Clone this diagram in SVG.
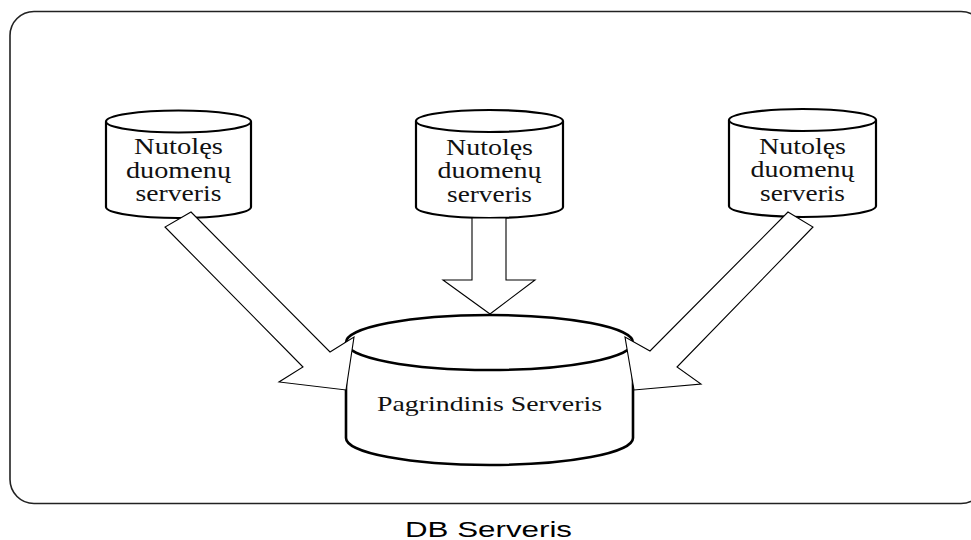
<svg xmlns="http://www.w3.org/2000/svg" width="971" height="540" viewBox="0 0 971 540">
  <style>
    .frame { fill: #ffffff; stroke: #222222; stroke-width: 1.6; }
    .cyl { fill: #ffffff; stroke: #000000; stroke-width: 2.2; stroke-linejoin: round; }
    .cyl-big { fill: #ffffff; stroke: #000000; stroke-width: 2.6; stroke-linejoin: round; }
    .arrow { fill: #ffffff; stroke: #000000; stroke-width: 1.1; stroke-linejoin: miter; }
    .lbl { font-family: "Liberation Serif", "Times New Roman", serif; font-size: 22.5px; fill: #111111; text-anchor: middle; }
    .lbl-main { font-family: "Liberation Serif", "Times New Roman", serif; font-size: 21.5px; fill: #111111; text-anchor: middle; }
    .cap { font-family: "Liberation Sans", Arial, sans-serif; font-size: 22px; fill: #000000; text-anchor: middle; }
  </style>

  <rect width="971" height="540" fill="#ffffff"/>

  <!-- outer panel -->
  <rect class="frame" x="10" y="11.5" width="975" height="492" rx="24" ry="24"/>

  <!-- remote data servers -->
  <g id="remote-left">
    <path class="cyl" d="M106,121.5 V207 A72.5,11 0 0 0 251,207 V121.5"/>
    <ellipse class="cyl" cx="178.5" cy="121.5" rx="72.5" ry="11"/>
    <text class="lbl" x="178.5" y="154" textLength="89" lengthAdjust="spacingAndGlyphs">Nutolęs</text>
    <text class="lbl" x="178.5" y="177.5" textLength="105" lengthAdjust="spacingAndGlyphs">duomenų</text>
    <text class="lbl" x="178.5" y="201" textLength="86" lengthAdjust="spacingAndGlyphs">serveris</text>
  </g>

  <g id="remote-middle">
    <path class="cyl" d="M416,121 V207 A73.5,11 0 0 0 563,207 V121"/>
    <ellipse class="cyl" cx="489.5" cy="121" rx="73.5" ry="11"/>
    <text class="lbl" x="489.5" y="154.5" textLength="87" lengthAdjust="spacingAndGlyphs">Nutolęs</text>
    <text class="lbl" x="489.5" y="178" textLength="104" lengthAdjust="spacingAndGlyphs">duomenų</text>
    <text class="lbl" x="489.5" y="201.5" textLength="85" lengthAdjust="spacingAndGlyphs">serveris</text>
  </g>

  <g id="remote-right">
    <path class="cyl" d="M729,120 V206 A73.5,11 0 0 0 876,206 V120"/>
    <ellipse class="cyl" cx="802.5" cy="120" rx="73.5" ry="11"/>
    <text class="lbl" x="802.5" y="153.5" textLength="87" lengthAdjust="spacingAndGlyphs">Nutolęs</text>
    <text class="lbl" x="802.5" y="177" textLength="104" lengthAdjust="spacingAndGlyphs">duomenų</text>
    <text class="lbl" x="802.5" y="200.5" textLength="85" lengthAdjust="spacingAndGlyphs">serveris</text>
  </g>

  <!-- main server -->
  <g id="main-server">
    <path class="cyl-big" d="M346,342.5 V438 A143.5,27 0 0 0 633,438 V342.5"/>
    <ellipse class="cyl-big" cx="489.5" cy="342.5" rx="143.5" ry="27.5"/>
    <text class="lbl-main" x="489.5" y="410.5" textLength="225" lengthAdjust="spacingAndGlyphs">Pagrindinis Serveris</text>
  </g>

  <!-- block arrows: remote servers feed the main server -->
  <g id="connectors">
    <polygon class="arrow" points="191,212 330,352 354,337 346,390 279,382 303,367 165,227"/>
    <polygon class="arrow" points="472,218 472,280 443,280 490,314 535,280 506,280 506,218"/>
    <polygon class="arrow" points="788,212 650,351 625,337 634,390 701,384 677,367 813,227"/>
  </g>

  <!-- caption -->
  <text class="cap" x="488.5" y="536.5" textLength="167" lengthAdjust="spacingAndGlyphs">DB Serveris</text>
</svg>
